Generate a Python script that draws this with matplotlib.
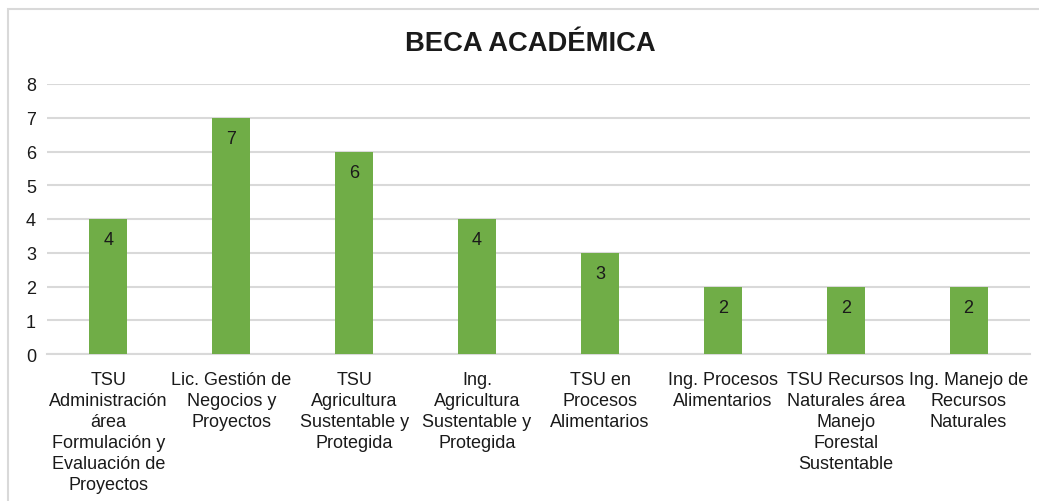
import matplotlib.pyplot as plt
from matplotlib.patches import Rectangle

# Data
carreras = [
    'TSU\nAdministración\nárea\nFormulación y\nEvaluación de\nProyectos',
    'Lic. Gestión de\nNegocios y\nProyectos',
    'TSU\nAgricultura\nSustentable y\nProtegida',
    'Ing.\nAgricultura\nSustentable y\nProtegida',
    'TSU en\nProcesos\nAlimentarios',
    'Ing. Procesos\nAlimentarios',
    'TSU Recursos\nNaturales área\nManejo\nForestal\nSustentable',
    'Ing. Manejo de\nRecursos\nNaturales',
]
becas = [4, 7, 6, 4, 3, 2, 2, 2]
yticks = [0, 1, 2, 3, 4, 5, 6, 7, 8]

plt.rcParams['font.family'] = ['Liberation Sans', 'DejaVu Sans']

W, H = 1039, 502
fig = plt.figure(figsize=(W / 100, H / 100), dpi=100)

# outer chart frame (top + left visible)
fig.patches.append(Rectangle((8 / W, -0.1), 2, (H - 10) / H + 0.1, transform=fig.transFigure,
                             fill=False, edgecolor='#d9d9d9', linewidth=1.5))

ax = fig.add_axes([47 / W, 1 - 355 / H, (1030 - 47) / W, (355 - 85) / H])
x = range(len(becas))
bars = ax.bar(x, becas, width=0.31, color='#70ad47', zorder=3)
for b, v in zip(bars, becas):
    ax.annotate(str(v), (b.get_x() + b.get_width() / 2, v), xytext=(0, -15),
                textcoords='offset points', ha='center', va='center', fontsize=13, color='#1a1a1a')

ax.set_xlim(-0.5, len(becas) - 0.5)
ax.set_ylim(0, 8)
ax.set_yticks(yticks)
ax.grid(axis='y', color='#d9d9d9', linewidth=1.5, zorder=0)
for s in ['top', 'right', 'left']:
    ax.spines[s].set_visible(False)
ax.spines['bottom'].set_color('#d9d9d9')
ax.spines['bottom'].set_linewidth(1.5)
ax.tick_params(length=0, labelsize=13, colors='#1a1a1a')
ax.tick_params(axis='y', pad=8)
ax.tick_params(axis='x', pad=12)
ax.set_xticks(list(x))
ax.set_xticklabels(carreras, linespacing=1.32, va='top', ha='center')

fig.text(530 / W, 1 - 44 / H, 'BECA ACADÉMICA', ha='center', va='center',
         fontsize=19.7, fontweight='bold', color='#1a1a1a')

fig.savefig('out.png', dpi=100, facecolor='white')
